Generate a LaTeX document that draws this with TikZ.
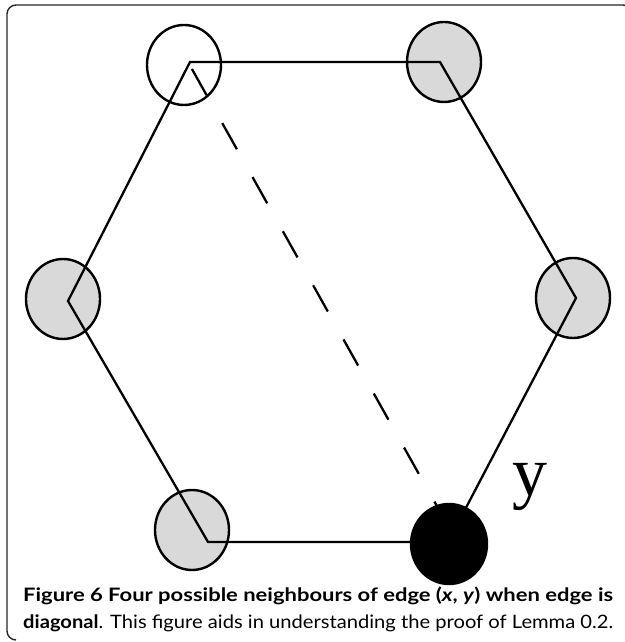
\documentclass[tikz,border=0pt]{standalone}
\usepackage{fontspec}
\usepackage{graphicx}
\setmainfont{Lato}
\newfontfamily\labelfont{Liberation Serif}
\usetikzlibrary{shapes.geometric}
\definecolor{vgray}{HTML}{D9D9D9}
\begin{document}
\begin{tikzpicture}[x=1pt,y=1pt,
  vert/.style={ellipse, draw=black, line width=2.4pt, minimum width=74pt, minimum height=80pt, inner sep=0pt},
  hexedge/.style={line width=2.3pt, line cap=round, line join=miter},
  diag/.style={line width=2.3pt, dash pattern=on 30pt off 32pt, dash phase=54pt},
  frameline/.style={line width=1.4pt, draw=black!85, rounded corners=9pt},
  capline/.style={anchor=base west, inner sep=0pt, font=\fontsize{18.5}{22}\selectfont}
]
\useasboundingbox (0,0) rectangle (624,642);
% frame
\draw[frameline] (16,2) -- (7,2) -- (7,637) -- (632,637) -- (632,600);
% vertex circles (behind)
\node[vert, fill=vgray] (nB) at (444,580) {};
\node[vert, fill=vgray] (nC) at (573,344) {};
\node[vert, fill=vgray] (nE) at (192,112) {};
\node[vert, fill=vgray] (nF) at (63,343) {};
\node[vert] (nA) at (184,577) {};
% hexagon corners
\coordinate (A) at (190,580);
\coordinate (B) at (440,580);
\coordinate (C) at (576,344);
\coordinate (D) at (448,100);
\coordinate (E) at (208,100);
\coordinate (F) at (68,341);
\coordinate (dS) at (188,580);
\coordinate (dT) at (457,100);
\draw[hexedge] (A) -- (B) -- (C) -- (D) -- (E) -- (F) -- cycle;
\draw[diag] (dS) -- (dT);
% y endpoint
\node[vert, fill=black, minimum width=76pt] (nD) at (449,98) {};
\node[anchor=base, inner sep=0pt, font=\labelfont\fontsize{70}{70}\selectfont] (ylab) at (530,146) {y};
% caption
\node[capline] (cap1) at (23,40) {\resizebox{590pt}{\height}{\textbf{Figure 6 Four possible neighbours of edge (\textit{x}, \textit{y}) when edge is}}};
\node[capline] (cap2) at (23,14) {\resizebox{590pt}{\height}{\textbf{diagonal}. This figure aids in understanding the proof of Lemma 0.2.}};
\end{tikzpicture}
\end{document}
